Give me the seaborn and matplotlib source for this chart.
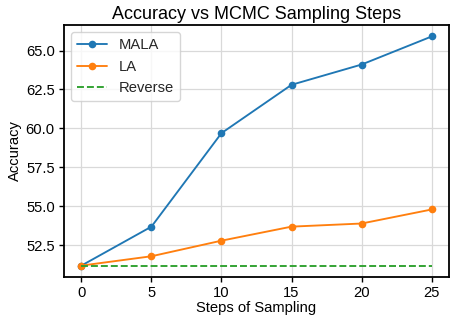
import matplotlib
matplotlib.use("Agg")
import matplotlib.pyplot as plt
import seaborn as sns
import pandas as pd

steps = [0, 5, 10, 15, 20, 25]
mala = [51.2, 53.7, 59.7, 62.8, 64.1, 65.9]
la = [51.2, 51.8, 52.8, 53.7, 53.9, 54.8]
reverse = [51.2, 51.2, 51.2, 51.2, 51.2, 51.2]
yticks = [52.5, 55.0, 57.5, 60.0, 62.5, 65.0]
xticks = [0, 5, 10, 15, 20, 25]

sns.set_theme(style="whitegrid")
plt.rcParams['font.family'] = ['Liberation Sans', 'DejaVu Sans']

fig, ax = plt.subplots(figsize=(4.5, 3.17), dpi=100)
fig.subplots_adjust(left=0.142, right=0.998, bottom=0.126, top=0.921)

blue, orange, green = "#1f77b4", "#ff7f0e", "#2ca02c"
df_m = pd.DataFrame({"x": steps, "y": mala})
df_l = pd.DataFrame({"x": steps, "y": la})
df_r = pd.DataFrame({"x": steps, "y": reverse})
sns.lineplot(data=df_m, x="x", y="y", ax=ax, color=blue, marker="o",
             markersize=5.5, markeredgewidth=0, linewidth=1.35, label="MALA")
sns.lineplot(data=df_l, x="x", y="y", ax=ax, color=orange, marker="o",
             markersize=5.5, markeredgewidth=0, linewidth=1.35, label="LA")
sns.lineplot(data=df_r, x="x", y="y", ax=ax, color=green, linestyle="--",
             linewidth=1.35, label="Reverse")

ax.set_xticks(xticks)
ax.set_yticks(yticks)
ax.set_yticklabels([f"{v:.1f}" for v in yticks])
ax.tick_params(axis="both", labelsize=10.6, colors="black", length=3.5, width=1,
               bottom=True, left=True, pad=3)
ax.set_xlabel("Steps of Sampling", fontsize=10.6, color="black", labelpad=1)
ax.set_ylabel("Accuracy", fontsize=10.6, color="black", labelpad=3)
ax.set_title("Accuracy vs MCMC Sampling Steps", fontsize=13, color="black", pad=4)
ax.grid(True, color="#d9d9d9", linewidth=0.9)
for s in ax.spines.values():
    s.set_color("black")
    s.set_linewidth(1.3)
leg = ax.legend(loc="upper left", fontsize=10.6, frameon=True)
leg.get_frame().set_edgecolor("#cccccc")
fig.savefig("out.png", dpi=100)
